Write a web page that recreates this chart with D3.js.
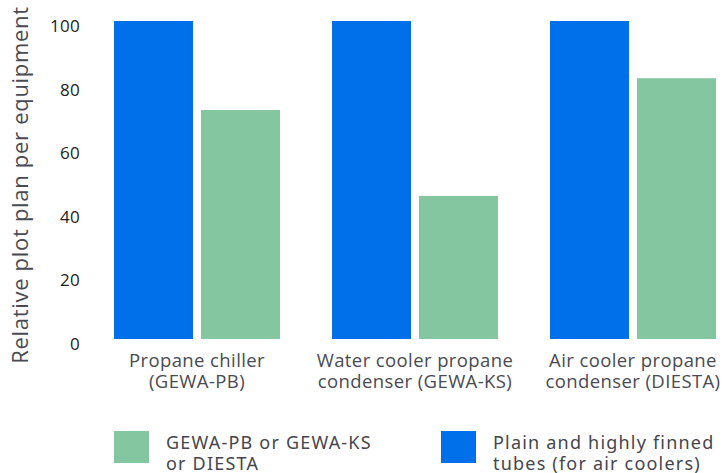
<!DOCTYPE html>
<html>
<head>
<meta charset="utf-8">
<script src="https://cdn.jsdelivr.net/npm/d3@7"></script>
<style>
  body { margin: 0; background: #fff; }
  text { font-family: "Open Sans", "Noto Sans", sans-serif; }
</style>
</head>
<body>
<svg width="726" height="473"></svg>
<script>
const categories = [
    ['Propane chiller', '(GEWA-PB)'],
    ['Water cooler propane', 'condenser (GEWA-KS)'],
    ['Air cooler propane', 'condenser (DIESTA)']
];
const seriesNames = ['plain', 'gewa'];
const plainValues = [100, 100, 100];
const gewaValues = [72, 45, 82];
const yTicks = [0, 20, 40, 60, 80, 100];
const legendLabels = [
    ['GEWA-PB or GEWA-KS', 'or DIESTA'],
    ['Plain and highly finned', 'tubes (for air coolers)']
];

const colors = { plain: '#0070ea', gewa: '#83c6a0' };

const svg = d3.select('svg');
const catKeys = categories.map(c => c.join(' '));

const data = catKeys.map((k, i) => ({ key: k, plain: plainValues[i], gewa: gewaValues[i] }));

const xScale = d3.scaleBand()
    .domain(catKeys)
    .range([114, 716])
    .paddingInner(0.2385)
    .paddingOuter(0);

const xSub = d3.scaleBand()
    .domain(seriesNames)
    .range([0, xScale.bandwidth()])
    .paddingInner(0.092);

const yScale = d3.scaleLinear()
    .domain([0, 100])
    .range([339, 21]);

// bars
const groups = svg.selectAll('g.grp').data(data)
    .enter().append('g')
    .attr('class', 'grp')
    .attr('transform', d => `translate(${xScale(d.key)},0)`);

groups.selectAll('rect')
    .data(d => seriesNames.map(s => ({ s, v: d[s] })))
    .enter().append('rect')
    .attr('x', d => xSub(d.s))
    .attr('y', d => yScale(d.v))
    .attr('width', xSub.bandwidth())
    .attr('height', d => yScale(0) - yScale(d.v))
    .attr('fill', d => colors[d.s]);

// y axis
const yAxis = svg.append('g')
    .attr('transform', 'translate(80,0)')
    .call(d3.axisLeft(yScale).tickValues(yTicks).tickSize(0).tickPadding(0));
yAxis.select('.domain').remove();
yAxis.selectAll('text')
    .attr('dy', '0.62em')
    .style('font-family', '"Open Sans", sans-serif')
    .style('font-size', '17px')
    .style('letter-spacing', '0.3px')
    .attr('fill', '#222');

svg.append('text')
    .attr('transform', 'translate(28,185) rotate(-90)')
    .attr('text-anchor', 'middle')
    .style('font-size', '22px')
    .style('letter-spacing', '0.7px')
    .attr('fill', '#4a4a52')
    .text('Relative plot plan per equipment');

// category labels, one text per line
const catLines = [];
categories.forEach((c, i) => c.forEach((line, j) => catLines.push({ i, j, line })));
svg.selectAll('text.cat').data(catLines)
    .enter().append('text')
    .attr('class', 'cat')
    .attr('text-anchor', 'middle')
    .attr('x', d => xScale(catKeys[d.i]) + xScale.bandwidth() / 2)
    .attr('y', d => 367 + d.j * 21)
    .style('font-size', '18.5px')
    .style('letter-spacing', '0.4px')
    .attr('fill', '#4a4a52')
    .text(d => d.line);

// legend
const legendItems = [
    { color: colors.gewa, lines: legendLabels[0], x: 114 },
    { color: colors.plain, lines: legendLabels[1], x: 441 }
];
const leg = svg.selectAll('g.leg').data(legendItems)
    .enter().append('g')
    .attr('class', 'leg')
    .attr('transform', d => `translate(${d.x},431)`);
leg.append('rect')
    .attr('width', 35)
    .attr('height', 32)
    .attr('fill', d => d.color);
leg.selectAll('text').data(d => d.lines)
    .enter().append('text')
    .attr('x', 52)
    .attr('y', (d, i) => 18 + i * 21)
    .style('font-family', '"Noto Sans", sans-serif')
    .style('font-size', '18px')
    .style('letter-spacing', '1.2px')
    .attr('fill', '#45454d')
    .text(d => d);
</script>
</body>
</html>
